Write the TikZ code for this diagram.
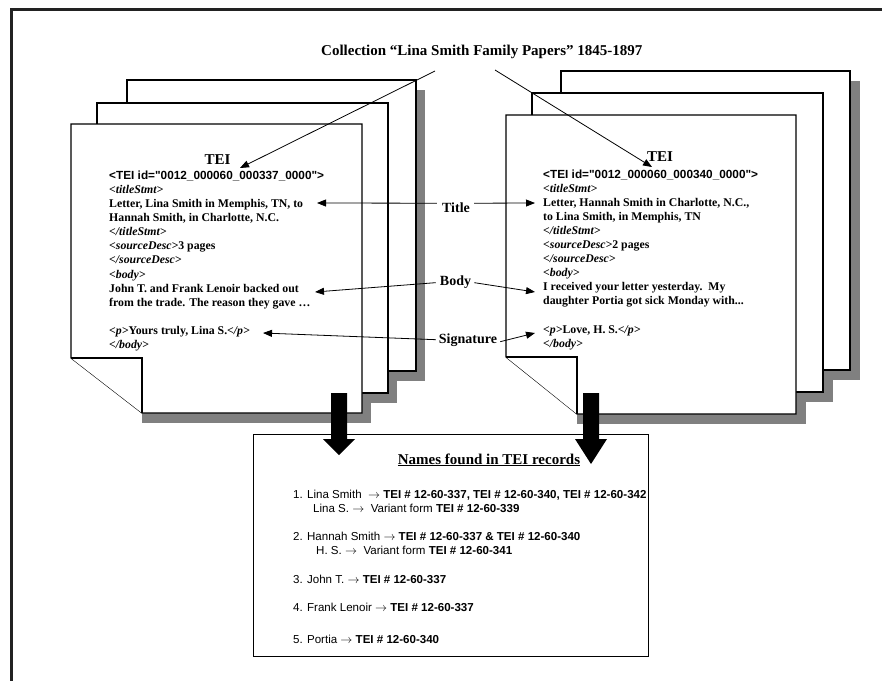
\documentclass[tikz,border=0pt]{standalone}
\usepackage{fontspec}
\setmainfont{Liberation Serif}
\setsansfont{Liberation Sans}
\usetikzlibrary{arrows.meta}
\definecolor{shadowgray}{HTML}{808080}
\definecolor{framecol}{HTML}{222222}
\newcommand\rar{$\rightarrow$}
\newcommand\qq{\textquotedbl}
\begin{document}
\begin{tikzpicture}[x=1pt,y=-1pt,
  pageline/.style={draw=black, line width=1.1pt, fill=white, line join=miter},
  shadow/.style={fill=shadowgray, draw=none},
  conn/.style={line width=0.8pt, -{Triangle[length=9pt,width=7pt]}},
  pagetxt/.style={anchor=base west, inner sep=0pt, font=\bfseries\fontsize{11.8}{14}\selectfont},
  headtxt/.style={anchor=base, inner sep=0pt, font=\bfseries\fontsize{15}{17}\selectfont},
  labeltxt/.style={anchor=base, inner sep=0pt, font=\bfseries\fontsize{14}{16}\selectfont},
  listtxt/.style={anchor=base west, inner sep=0pt, font=\sffamily\fontsize{11.55}{13}\selectfont},
  fatarrow/.style={fill=black, draw=none}]
\useasboundingbox (0,0) rectangle (882,680);
% outer frame
\draw[line width=3pt, framecol] (11.5,690) -- (11.5,9.5) -- (890,9.5);

% left stack
\fill[shadow] (136,90) rectangle (425,381);
\fill[shadow] (106,113) rectangle (397,403);
\fill[shadow] (142,134) rectangle (371,423);
\draw[pageline] (127,80) rectangle (416,371);
\draw[pageline] (97,103) rectangle (388,393);
\fill[white] (71,124) rectangle (362,413);
\draw[pageline] (71,124) -- (362,124) -- (362,413) -- (142,413) -- (71,358) -- cycle;
\draw[pageline] (71,358) -- (142,358) -- (142,413);

% right stack
\fill[shadow] (571,81) rectangle (860,380);
\fill[shadow] (542,103) rectangle (833,402);
\fill[shadow] (577,125) rectangle (806,424);
\draw[pageline] (561,71) rectangle (850,370);
\draw[pageline] (532,93) rectangle (823,392);
\fill[white] (506,115) rectangle (796,414);
\draw[pageline] (506,115) -- (796,115) -- (796,414) -- (577,414) -- (506,357) -- cycle;
\draw[pageline] (506,357) -- (577,357) -- (577,414);

% collection title
\node[headtxt, anchor=base west] (coll) at (321,55.7) {Collection “Lina Smith Family Papers” 1845-1897};

% left page text
\node[headtxt] (lh) at (217.5,164) {TEI};
\node[pagetxt] (l0) at (109,179) {\sffamily <TEI id=\qq 0012\_000060\_000337\_0000\qq>};
\node[pagetxt] (l1) at (109,193.15) {\itshape <titleStmt>};
\node[pagetxt] (l2) at (109,207.3) {Letter, Lina Smith in Memphis, TN, to};
\node[pagetxt] (l3) at (109,221.45) {Hannah Smith, in Charlotte, N.C.};
\node[pagetxt] (l4) at (109,235.6) {\itshape </titleStmt>};
\node[pagetxt] (l5) at (109,249.75) {\textit{<sourceDesc>}3 pages};
\node[pagetxt] (l6) at (109,263.9) {\itshape </sourceDesc>};
\node[pagetxt] (l7) at (109,278.05) {\itshape <body>};
\node[pagetxt] (l8) at (109,292.2) {John T. and Frank Lenoir backed out};
\node[pagetxt] (l9) at (109,306.35) {from the trade. The reason they gave …};
\node[pagetxt] (l11) at (109,334.65) {\textit{<p>}Yours truly, Lina S.\textit{</p>}};
\node[pagetxt] (l12) at (109,348.8) {\itshape </body>};

% right page text
\node[headtxt] (rh) at (660,161) {TEI};
\node[pagetxt] (r0) at (543,178) {\sffamily <TEI id=\qq 0012\_000060\_000340\_0000\qq>};
\node[pagetxt] (r1) at (543,192.1) {\itshape <titleStmt>};
\node[pagetxt] (r2) at (543,206.2) {Letter, Hannah Smith in Charlotte, N.C.,};
\node[pagetxt] (r3) at (543,220.3) {to Lina Smith, in Memphis, TN};
\node[pagetxt] (r4) at (543,234.4) {\itshape </titleStmt>};
\node[pagetxt] (r5) at (543,248.5) {\textit{<sourceDesc>}2 pages};
\node[pagetxt] (r6) at (543,262.6) {\itshape </sourceDesc>};
\node[pagetxt] (r7) at (543,276.7) {\itshape <body>};
\node[pagetxt] (r8) at (543,290.8) {I received your letter yesterday.\ \ My};
\node[pagetxt] (r9) at (543,304.9) {daughter Portia got sick Monday with...};
\node[pagetxt] (r11) at (543,333.1) {\textit{<p>}Love, H. S.\textit{</p>}};
\node[pagetxt] (r12) at (543,347.2) {\itshape </body>};

% collection connectors
\coordinate (c1) at (435,71);
\coordinate (c2) at (495,70);
\coordinate (t1) at (240,168);
\coordinate (t2) at (652,167);
\draw[conn] (c1) -- (t1);
\draw[conn] (c2) -- (t2);

% labels
\node[labeltxt] (title) at (456,212) {Title};
\node[labeltxt] (body) at (455.5,285) {Body};
\node[labeltxt] (sig) at (468,343) {Signature};
\coordinate (tl) at (317,203);
\coordinate (tr) at (535,203);
\coordinate (bl) at (315,292);
\coordinate (br) at (535,292);
\coordinate (sl) at (263,333);
\coordinate (sr) at (535,333);
\draw[conn] ([xshift=-5pt,yshift=4pt]title.west) -- (tl);
\draw[conn] ([xshift=4pt,yshift=4pt]title.east) -- (tr);
\draw[conn] ([xshift=-4pt,yshift=-1pt]body.west) -- (bl);
\draw[conn] ([xshift=3pt,yshift=-1pt]body.east) -- (br);
\draw[conn] ([xshift=-3pt]sig.west) -- (sl);
\draw[conn] ([xshift=3pt,yshift=-2pt]sig.east) -- (sr);

% names box
\node[draw, line width=1.1pt, fill=white, minimum width=395pt, minimum height=222pt, anchor=north west, inner sep=0pt] (names) at (253,434) {};

% fat arrows
\fill[fatarrow] (331,393) -- (347,393) -- (347,439) -- (355,439) -- (339,455) -- (323,439) -- (331,439) -- cycle;
\fill[fatarrow] (583,393) -- (599,393) -- (599,439) -- (607,439) -- (591,464) -- (575,439) -- (583,439) -- cycle;

\node[headtxt] (nh) at (489,464) {\underline{Names found in TEI records}};
\node[listtxt] (n1) at (293,498) {1. Lina Smith\ \ \rar\ \textbf{TEI \# 12-60-337, TEI \# 12-60-340, TEI \# 12-60-342}};
\node[listtxt] (n1b) at (313,512) {Lina S. \rar\ \ Variant form \textbf{TEI \# 12-60-339}};
\node[listtxt] (n2) at (293,540) {2. Hannah Smith \rar\ \textbf{TEI \# 12-60-337 \& TEI \# 12-60-340}};
\node[listtxt] (n2b) at (316,554) {H. S. \rar\ \ Variant form \textbf{TEI \# 12-60-341}};
\node[listtxt] (n3) at (293,583) {3. John T. \rar\ \textbf{TEI \# 12-60-337}};
\node[listtxt] (n4) at (293,611) {4. Frank Lenoir \rar\ \textbf{TEI \# 12-60-337}};
\node[listtxt] (n5) at (293,643) {5. Portia \rar\ \textbf{TEI \# 12-60-340}};
\end{tikzpicture}
\end{document}
